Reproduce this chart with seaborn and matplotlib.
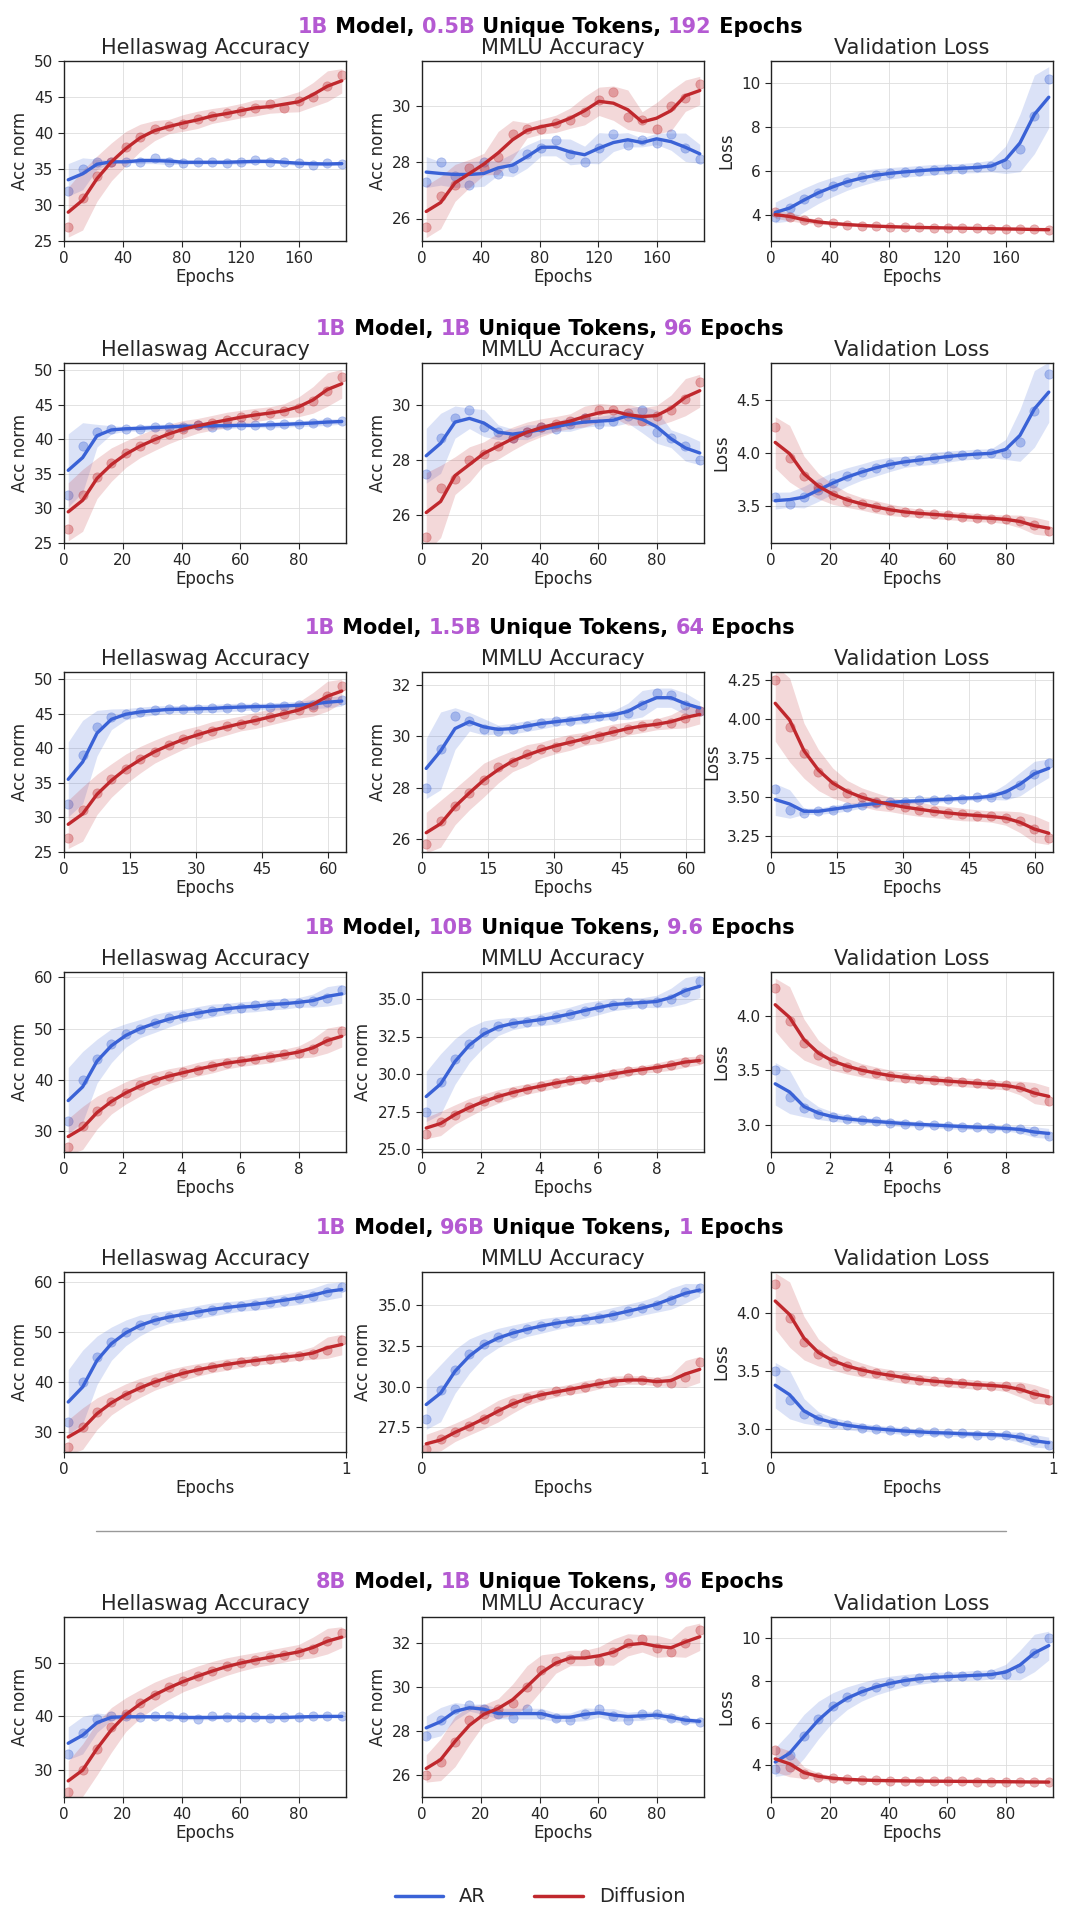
import matplotlib
matplotlib.use("Agg")
import matplotlib.pyplot as plt
import numpy as np
import pandas as pd
import seaborn as sns

AR_COLOR = "#3a62d6"
DIFF_COLOR = "#c0282d"
PURPLE = "#b45ad2"

# row settings: title parts, epochs, xticks
row_titles = [
    ("1B", "0.5B", "192"), ("1B", "1B", "96"), ("1B", "1.5B", "64"),
    ("1B", "10B", "9.6"), ("1B", "96B", "1"), ("8B", "1B", "96"),
]
row_epochs = [192, 96, 64, 9.6, 1, 96]
row_xticks = [[0, 40, 80, 120, 160], [0, 20, 40, 60, 80], [0, 15, 30, 45, 60],
              [0, 2, 4, 6, 8], [0, 1], [0, 20, 40, 60, 80]]

# ---- row 1
hs_ar_1 = [32, 35, 36, 36, 36, 36, 36.5, 36, 35.8, 36, 36, 35.8, 36, 36.2, 36, 36, 35.8, 35.6, 35.8, 35.7]
hs_df_1 = [27, 31, 34, 36, 38, 39.5, 40.5, 41, 41.2, 42, 42.3, 42.8, 43, 43.5, 44, 43.5, 44.5, 45, 46.5, 48]
mm_ar_1 = [27.3, 28, 27.5, 27.2, 28, 27.6, 27.8, 28.3, 28.5, 28.8, 28.3, 28, 28.5, 29, 28.6, 28.8, 28.7, 29, 28.5, 28.1]
mm_df_1 = [25.7, 26.8, 27.2, 27.8, 27.8, 28.2, 29, 29.2, 29.2, 29.4, 29.5, 29.8, 30.2, 30.5, 29.6, 29.5, 29.2, 30, 30.3, 30.8]
vl_ar_1 = [3.9, 4.3, 4.7, 5.0, 5.3, 5.5, 5.7, 5.8, 5.9, 5.95, 6.0, 6.05, 6.1, 6.1, 6.15, 6.2, 6.3, 7.0, 8.5, 10.2]
vl_df_1 = [4.1, 3.9, 3.75, 3.65, 3.6, 3.55, 3.5, 3.48, 3.45, 3.43, 3.42, 3.4, 3.4, 3.38, 3.37, 3.36, 3.35, 3.34, 3.33, 3.3]
# ---- row 2
hs_ar_2 = [32, 39, 41, 41.5, 41.5, 41.5, 41.7, 41.8, 41.8, 42, 41.8, 42, 42, 42, 42, 42.2, 42.2, 42.3, 42.5, 42.6]
hs_df_2 = [27, 32, 34.5, 36.5, 38, 39, 40, 40.8, 41.5, 42, 42.3, 42.8, 43.2, 43.5, 43.8, 44, 44.5, 45.5, 47, 49]
mm_ar_2 = [27.5, 28.8, 29.5, 29.8, 29.2, 29, 28.8, 29, 29.2, 29.1, 29.3, 29.5, 29.3, 29.4, 29.6, 29.8, 29, 28.8, 28.5, 28]
mm_df_2 = [25.2, 27, 27.3, 28, 28.2, 28.5, 28.8, 29, 29.2, 29.3, 29.4, 29.5, 29.8, 29.8, 29.7, 29.4, 29.6, 29.8, 30.2, 30.8]
vl_ar_2 = [3.58, 3.52, 3.58, 3.65, 3.72, 3.78, 3.82, 3.86, 3.9, 3.92, 3.93, 3.95, 3.97, 3.98, 3.99, 4.0, 4.0, 4.1, 4.4, 4.75]
vl_df_2 = [4.25, 3.95, 3.78, 3.68, 3.6, 3.55, 3.52, 3.49, 3.46, 3.44, 3.43, 3.42, 3.41, 3.4, 3.39, 3.38, 3.38, 3.36, 3.32, 3.26]
# ---- row 3
hs_ar_3 = [32, 39, 43, 44.5, 45, 45.2, 45.5, 45.6, 45.7, 45.6, 45.8, 45.8, 46, 46, 46, 46.1, 46.2, 46.3, 46.6, 47]
hs_df_3 = [27, 31, 33.5, 35.5, 37, 38.5, 39.5, 40.5, 41.3, 42, 42.5, 43.2, 43.5, 44, 44.5, 45, 45.5, 46, 47.5, 49]
mm_ar_3 = [28, 29.5, 30.8, 30.6, 30.3, 30.2, 30.3, 30.4, 30.5, 30.6, 30.6, 30.7, 30.8, 30.8, 30.9, 31.2, 31.7, 31.6, 31.2, 31]
mm_df_3 = [25.8, 26.7, 27.3, 27.8, 28.3, 28.8, 29, 29.3, 29.5, 29.6, 29.8, 29.9, 30, 30.2, 30.3, 30.4, 30.5, 30.5, 30.7, 31]
vl_ar_3 = [3.55, 3.42, 3.4, 3.41, 3.42, 3.44, 3.45, 3.46, 3.47, 3.47, 3.48, 3.48, 3.49, 3.49, 3.5, 3.5, 3.52, 3.58, 3.65, 3.72]
vl_df_3 = [4.25, 3.95, 3.78, 3.66, 3.58, 3.53, 3.5, 3.47, 3.45, 3.44, 3.42, 3.41, 3.4, 3.39, 3.38, 3.38, 3.37, 3.35, 3.3, 3.24]
# ---- row 4
hs_ar_4 = [32, 40, 44, 47, 49, 50, 51, 52, 52.5, 53, 53.5, 54, 54, 54.5, 54.5, 55, 55, 55.3, 56, 57.5]
hs_df_4 = [27, 31, 34, 36, 37.5, 39, 40, 40.8, 41.5, 42, 42.8, 43.3, 43.7, 44, 44.5, 45, 45.3, 46, 47.5, 49.5]
mm_ar_4 = [27.5, 29.5, 31, 32, 32.8, 33.2, 33.4, 33.5, 33.6, 33.8, 34, 34.2, 34.5, 34.6, 34.8, 34.7, 34.8, 35, 35.5, 36.2]
mm_df_4 = [26, 26.8, 27.3, 27.8, 28.2, 28.5, 28.8, 29, 29.2, 29.4, 29.6, 29.7, 29.8, 30, 30.2, 30.3, 30.4, 30.6, 30.8, 31]
vl_ar_4 = [3.5, 3.25, 3.15, 3.1, 3.07, 3.05, 3.04, 3.03, 3.02, 3.01, 3.0, 3.0, 2.99, 2.98, 2.98, 2.97, 2.97, 2.96, 2.94, 2.9]
vl_df_4 = [4.25, 3.95, 3.75, 3.64, 3.58, 3.53, 3.5, 3.47, 3.45, 3.43, 3.42, 3.41, 3.4, 3.39, 3.38, 3.37, 3.36, 3.35, 3.3, 3.22]
# ---- row 5
hs_ar_5 = [32, 40, 45, 48, 50, 51.5, 52.5, 53, 53.5, 54, 54.5, 55, 55.2, 55.5, 56, 56.3, 56.8, 57.3, 58, 59]
hs_df_5 = [27, 31, 34, 36, 37.5, 39, 40, 41, 41.8, 42.5, 43, 43.5, 44, 44.3, 44.6, 45, 45.3, 45.6, 46.5, 48.5]
mm_ar_5 = [28, 29.8, 31, 32, 32.6, 33, 33.3, 33.5, 33.7, 33.9, 34, 34.1, 34.2, 34.4, 34.6, 34.8, 35, 35.3, 35.8, 36]
mm_df_5 = [26.2, 26.8, 27.2, 27.6, 28, 28.5, 29, 29.3, 29.5, 29.7, 29.8, 30, 30.2, 30.3, 30.5, 30.4, 30.3, 30.2, 30.6, 31.5]
vl_ar_5 = [3.5, 3.25, 3.13, 3.08, 3.05, 3.03, 3.01, 3.0, 2.99, 2.98, 2.97, 2.97, 2.96, 2.96, 2.95, 2.95, 2.95, 2.93, 2.9, 2.86]
vl_df_5 = [4.25, 3.95, 3.75, 3.64, 3.58, 3.54, 3.5, 3.48, 3.46, 3.44, 3.42, 3.41, 3.4, 3.39, 3.38, 3.37, 3.37, 3.35, 3.3, 3.25]
# ---- row 6
hs_ar_6 = [33, 37, 39.5, 40, 40, 39.8, 40, 40, 39.8, 39.6, 40, 39.8, 39.8, 39.9, 39.7, 39.8, 39.9, 40, 40, 40]
hs_df_6 = [26, 30, 34, 38, 40.5, 42.5, 44, 45.5, 46.5, 47.5, 48.5, 49.3, 50, 50.5, 51, 51.5, 52, 52.5, 54, 55.5]
mm_ar_6 = [27.8, 28.5, 29, 29.2, 29, 28.8, 28.6, 29, 28.8, 28.6, 28.5, 28.8, 29, 28.7, 28.5, 28.8, 28.8, 28.6, 28.5, 28.4]
mm_df_6 = [26, 26.6, 27.5, 28.5, 28.8, 29, 29.3, 30, 30.8, 31.2, 31.3, 31.5, 31.2, 31.6, 32, 32.2, 31.8, 31.6, 32, 32.6]
vl_ar_6 = [3.8, 4.5, 5.4, 6.2, 6.8, 7.2, 7.5, 7.7, 7.9, 8.0, 8.1, 8.15, 8.2, 8.2, 8.25, 8.3, 8.3, 8.6, 9.3, 10]
vl_df_6 = [4.7, 3.9, 3.6, 3.45, 3.38, 3.33, 3.3, 3.28, 3.27, 3.26, 3.25, 3.25, 3.24, 3.24, 3.23, 3.23, 3.22, 3.22, 3.21, 3.2]

series = [
    [(hs_ar_1, hs_df_1), (mm_ar_1, mm_df_1), (vl_ar_1, vl_df_1)],
    [(hs_ar_2, hs_df_2), (mm_ar_2, mm_df_2), (vl_ar_2, vl_df_2)],
    [(hs_ar_3, hs_df_3), (mm_ar_3, mm_df_3), (vl_ar_3, vl_df_3)],
    [(hs_ar_4, hs_df_4), (mm_ar_4, mm_df_4), (vl_ar_4, vl_df_4)],
    [(hs_ar_5, hs_df_5), (mm_ar_5, mm_df_5), (vl_ar_5, vl_df_5)],
    [(hs_ar_6, hs_df_6), (mm_ar_6, mm_df_6), (vl_ar_6, vl_df_6)],
]

ylims = [
    [(25, 50), (25.2, 31.6), (2.8, 11)],
    [(25, 51), (25, 31.5), (3.15, 4.85)],
    [(25, 51), (25.5, 32.5), (3.15, 4.3)],
    [(26, 61), (24.8, 36.8), (2.75, 4.4)],
    [(26, 62), (26, 37), (2.8, 4.35)],
    [(25, 58.5), (25, 33.2), (2.5, 11)],
]
yticks = [
    [[25, 30, 35, 40, 45, 50], [26, 28, 30], [4, 6, 8, 10]],
    [[25, 30, 35, 40, 45, 50], [26, 28, 30], [3.5, 4.0, 4.5]],
    [[25, 30, 35, 40, 45, 50], [26, 28, 30, 32], [3.25, 3.5, 3.75, 4.0, 4.25]],
    [[30, 40, 50, 60], [25.0, 27.5, 30.0, 32.5, 35.0], [3.0, 3.5, 4.0]],
    [[30, 40, 50, 60], [27.5, 30.0, 32.5, 35.0], [3.0, 3.5, 4.0]],
    [[30, 40, 50], [26, 28, 30, 32], [4, 6, 8, 10]],
]
col_titles = ["Hellaswag Accuracy", "MMLU Accuracy", "Validation Loss"]
col_ylabels = ["Acc norm", "Acc norm", "Loss"]

W, H = 1080, 1918
fig = plt.figure(figsize=(W / 100, H / 100), dpi=100)
sns.set_style("white")

col_left = [64, 422, 771]
col_w = 282
row_top = [61, 363, 672, 972, 1272, 1617]
ax_h = 180
row_title_y = [27, 329, 628, 928, 1228, 1582]


def ytick_fmt(v, ticks):
    if all(float(t).is_integer() for t in ticks):
        return f"{int(v)}"
    if any(abs(t * 10 - round(t * 10)) > 1e-9 for t in ticks):
        return f"{v:.2f}"
    return f"{v:.1f}"


def draw_panel(ax, x, ar, df):
    for vals, color in [(ar, AR_COLOR), (df, DIFF_COLOR)]:
        d = pd.DataFrame({"epoch": x, "value": vals})
        smooth = d["value"].rolling(3, center=True, min_periods=1).mean()
        spread = d["value"].rolling(3, center=True, min_periods=1).std().fillna(0)
        spread = spread + (d["value"].max() - d["value"].min()) * 0.03
        ax.fill_between(x, smooth - spread, smooth + spread, color=color, alpha=0.18, lw=0)
        sns.scatterplot(data=d, x="epoch", y="value", ax=ax, color=color, alpha=0.35,
                        s=45, edgecolor=color, linewidth=0.5, legend=False)
        sns.lineplot(x=x, y=smooth.values, ax=ax, color=color, lw=2.4)


for r in range(6):
    ep = row_epochs[r]
    x = np.linspace(ep * 0.015, ep * 0.985, 20)
    for c in range(3):
        l = col_left[c] / W
        b = 1 - (row_top[r] + ax_h) / H
        ax = fig.add_axes([l, b, col_w / W, ax_h / H])
        ar, df = series[r][c]
        draw_panel(ax, x, ar, df)
        ax.set_xlim(0, ep)
        ax.set_ylim(*ylims[r][c])
        ax.set_xticks(row_xticks[r])
        ax.set_yticks(yticks[r][c])
        ax.set_yticklabels([ytick_fmt(v, yticks[r][c]) for v in yticks[r][c]])
        ax.grid(True, color="#dddddd", lw=0.6)
        ax.set_title(col_titles[c], fontsize=15, pad=5)
        ax.set_xlabel("Epochs", fontsize=12, labelpad=1)
        ax.set_ylabel(col_ylabels[c], fontsize=12)
        ax.tick_params(labelsize=11, length=4, direction="out", left=True, bottom=True)
        for sp in ax.spines.values():
            sp.set_color("#222222")
            sp.set_linewidth(1.0)

    # row title with purple numbers
    m, t, e = row_titles[r]
    parts = [(m, PURPLE), (" Model, ", "black"), (t, PURPLE), (" Unique Tokens, ", "black"),
             (e, PURPLE), (" Epochs", "black")]
    renderer = fig.canvas.get_renderer()
    texts, total = [], 0
    for s, col in parts:
        tx = fig.text(0, 1 - row_title_y[r] / H, s, fontsize=15, fontweight="bold",
                      color=col, va="center", ha="left")
        w = tx.get_window_extent(renderer).width
        texts.append((tx, w))
        total += w
    start = (W - total) / 2 + 10
    for tx, w in texts:
        tx.set_x(start / W)
        start += w

# separator
fig.add_artist(plt.Line2D([96 / W, 1006 / W], [1 - 1531 / H] * 2, color="#999999", lw=1))

# legend
handles = [plt.Line2D([], [], color=AR_COLOR, lw=2.5), plt.Line2D([], [], color=DIFF_COLOR, lw=2.5)]
fig.legend(handles, ["AR", "Diffusion"], loc="center", bbox_to_anchor=(0.5, 1 - 1897 / H),
           ncol=2, frameon=False, fontsize=14, handlelength=2.5, columnspacing=2.5)

fig.savefig("out.png", dpi=100)
